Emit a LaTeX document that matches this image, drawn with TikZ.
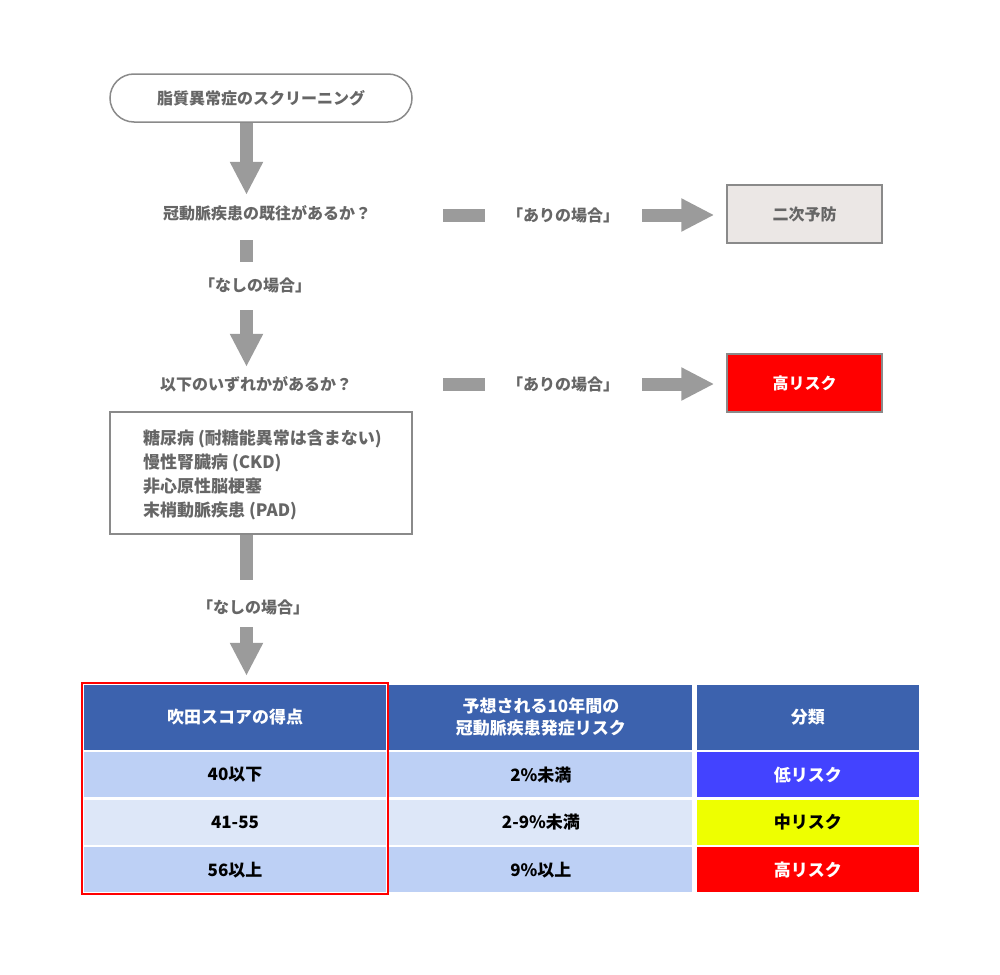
\documentclass[tikz,border=0pt]{standalone}
\usepackage{fontspec}
\newfontfamily\jp{Noto Sans CJK JP}
\usepackage{tikz}
\usetikzlibrary{positioning}
\usetikzlibrary{arrows.meta}
\usetikzlibrary{fit}
\definecolor{txtgray}{HTML}{666666}
\definecolor{linegray}{HTML}{8A8A8A}
\definecolor{arrgray}{HTML}{9B9B9B}
\definecolor{prevgray}{HTML}{EBE7E5}
\definecolor{hdblue}{HTML}{3C62AE}
\definecolor{rowblue}{HTML}{BDD0F5}
\definecolor{rowpale}{HTML}{DDE7F8}
\definecolor{lowblue}{HTML}{4343FF}
\definecolor{midyellow}{HTML}{EEFF00}
\definecolor{hired}{HTML}{FF0000}

\begin{document}
\begin{tikzpicture} [x=1pt, y=-1pt,
        every node/.style = {font=\jp\bfseries\fontsize{16}{22}\selectfont, inner sep=0pt},
        lbl/.style = {text=txtgray, text height=14pt, text depth=2pt},
        frame/.style = {draw=linegray, line width=1.5pt, text=txtgray},
        bar/.style = {draw=arrgray, line width=13pt},
        bigarrow/.style = {bar, -{Triangle[length=33pt, width=31pt]}},
        cell/.style = {fill=#1, minimum height=45pt, text=black, font=\jp\bfseries\fontsize{17}{22}\selectfont}]
        \useasboundingbox (0,0) rectangle (1000,974);

        %Ablauf
        \node[frame, rounded corners=24pt, minimum width=302pt, minimum height=48pt] (screen) at (261,98) {脂質異常症のスクリーニング};
        \coordinate (axis) at (246.5,0);
        \node[lbl, anchor=west] (q1) at (163,213) {冠動脈疾患の既往があるか？};
        \node[lbl] (no1) at (255,285) {「なしの場合」};
        \node[lbl, anchor=west] (q2) at (160,384) {以下のいずれかがあるか？};
        \node[frame, minimum width=302pt, minimum height=122pt] (list) at (261,473) {};
        \node[text=txtgray, anchor=west, align=left, font=\jp\bfseries\fontsize{17}{24}\selectfont] (items) at (143,475)
              {糖尿病 (耐糖能異常は含まない)\\慢性腎臓病 (CKD)\\非心原性脳梗塞\\末梢動脈疾患 (PAD)};
        \node[lbl] (no2) at (253,607) {「なしの場合」};

        \node[lbl] (yes1) at (563,215) {「ありの場合」};
        \node[frame, fill=prevgray, minimum width=155pt, minimum height=58pt] (prev) at (804.5,214) {二次予防};
        \node[lbl] (yes2) at (563,384) {「ありの場合」};
        \node[frame, fill=hired, text=white, minimum width=155pt, minimum height=58pt] (high) at (804.5,383) {高リスク};

        %Tabelle
        \node[cell=hdblue, text=white, minimum width=302pt, minimum height=65pt] (h1) at (235,717.5) {吹田スコアの得点};
        \node[cell=hdblue, text=white, minimum width=303pt, minimum height=65pt, align=center] (h2) [right = 3pt of h1] {予想される10年間の\\冠動脈疾患発症リスク};
        \node[cell=hdblue, text=white, minimum width=222pt, minimum height=65pt] (h3) [right = 4pt of h2] {分類};

        \node[cell=rowblue, minimum width=302pt] (a1) [below = 2pt of h1] {40以下};
        \node[cell=rowblue, minimum width=303pt] (b1) [right = 3pt of a1] {2\%未満};
        \node[cell=lowblue, text=white, minimum width=222pt] (c1) [right = 4pt of b1] {低リスク};

        \node[cell=rowpale, minimum width=302pt] (a2) [below = 2pt of a1] {41-55};
        \node[cell=rowpale, minimum width=303pt] (b2) [right = 3pt of a2] {2-9\%未満};
        \node[cell=midyellow, minimum width=222pt] (c2) [right = 4pt of b2] {中リスク};

        \node[cell=rowblue, minimum width=302pt] (a3) [below = 2pt of a2] {56以上};
        \node[cell=rowblue, minimum width=303pt] (b3) [right = 3pt of a3] {9\%以上};
        \node[cell=hired, text=white, minimum width=222pt] (c3) [right = 4pt of b3] {高リスク};

        \node[draw=hired, line width=2pt, inner sep=2pt, fit=(h1)(a3)] (pick) {};

        %Pfeile
        \draw[bigarrow, shorten >=10pt] (screen.south -| axis) -- (q1.north -| axis);
        \draw[bar, shorten <=19pt, shorten >=15pt] (q1.south -| axis) -- (no1.north -| axis);
        \draw[bigarrow, shorten <=17pt, shorten >=9pt] (no1.south -| axis) -- (q2.north -| axis);
        \draw[bar, shorten >=19pt] (list.south -| axis) -- (no2.north -| axis);
        \draw[bigarrow, shorten <=12pt, shorten >=6pt] (no2.south -| axis) -- (pick.north -| axis);

        \draw[bar, shorten <=72pt, shorten >=22pt] (q1.east |- yes1) -- (yes1.west);
        \draw[bigarrow, shorten <=23pt, shorten >=12pt] (yes1.east) -- (prev.west |- yes1);
        \draw[bar, shorten <=91pt, shorten >=22pt] (q2.east |- yes2) -- (yes2.west);
        \draw[bigarrow, shorten <=23pt, shorten >=12pt] (yes2.east) -- (high.west |- yes2);

    \end{tikzpicture}
\end{document}
